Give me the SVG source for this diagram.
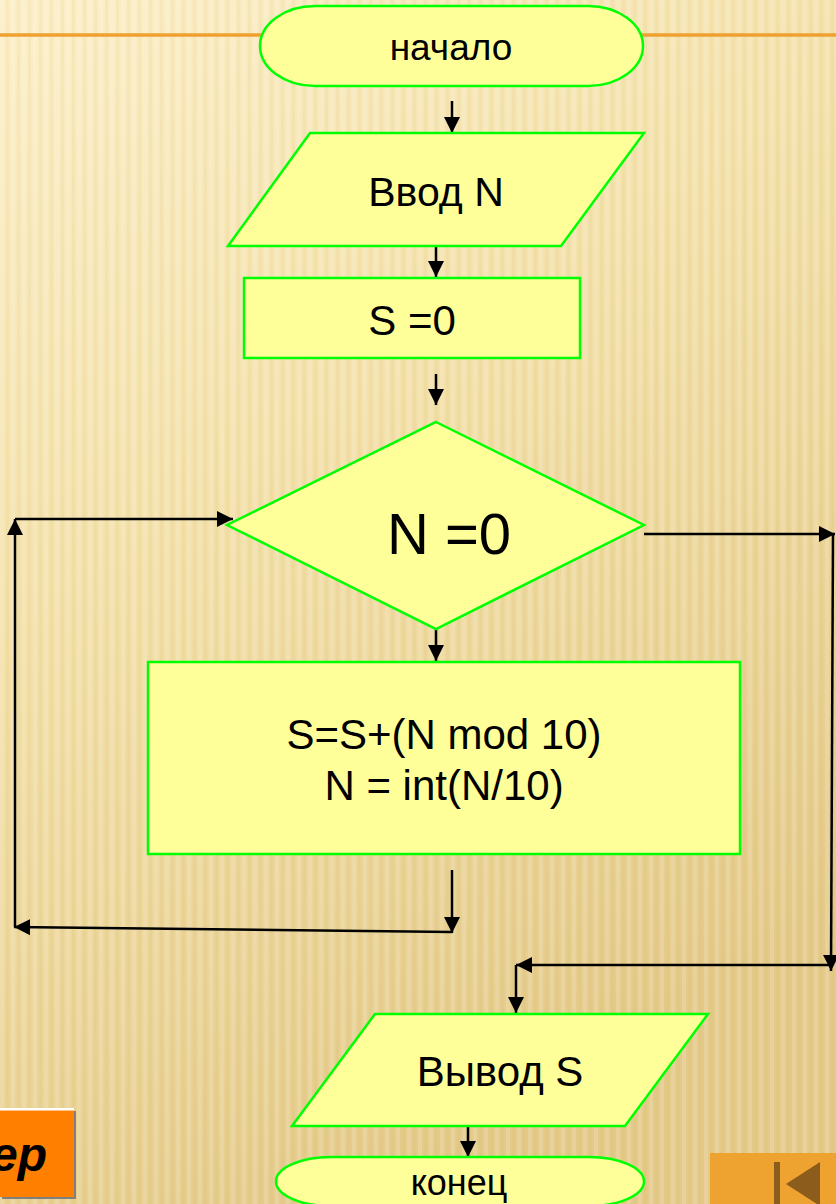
<svg xmlns="http://www.w3.org/2000/svg" width="836" height="1204" viewBox="0 0 836 1204">
  <defs>
    <linearGradient id="bg" x1="0" y1="0" x2="0.45" y2="1">
      <stop offset="0" stop-color="#fcefc8"/>
      <stop offset="0.45" stop-color="#f3e1aa"/>
      <stop offset="1" stop-color="#e4ca89"/>
    </linearGradient>
    <pattern id="stripes" width="11" height="40" patternUnits="userSpaceOnUse">
      <rect x="0" y="0" width="4" height="40" fill="#ffffff" opacity="0.14"/>
      <rect x="6" y="0" width="3" height="40" fill="#b08a30" opacity="0.06"/>
    </pattern>
    <marker id="arrow" viewBox="0 0 16 16" refX="16" refY="8" markerWidth="16" markerHeight="16" markerUnits="userSpaceOnUse" orient="auto">
      <path d="M0,0 L16,8 L0,16 z" fill="#000"/>
    </marker>
    <style>
      .node { fill: #ffff99; stroke: #00ff00; stroke-width: 2.5; }
      .lbl { font-family: "Liberation Sans", Arial, sans-serif; fill: #000; text-anchor: middle; }
      .link { fill: none; stroke: #000; stroke-width: 2.5; marker-end: url(#arrow); }
    </style>
  </defs>

  <!-- background -->
  <rect width="836" height="1204" fill="url(#bg)"/>
  <rect width="836" height="1204" fill="url(#stripes)"/>
  <line x1="0" y1="35" x2="836" y2="35" stroke="#eea030" stroke-width="3.5"/>

  <!-- connectors -->
  <g id="connectors">
    <line class="link" x1="452" y1="101" x2="452" y2="133"/>
    <line class="link" x1="436" y1="246" x2="436" y2="277"/>
    <line class="link" x1="436" y1="374" x2="436" y2="405"/>
    <line class="link" x1="436" y1="629" x2="436" y2="661"/>
    <!-- loop back to the condition -->
    <line class="link" x1="452" y1="870" x2="452" y2="933"/>
    <line class="link" x1="452" y1="932" x2="14" y2="927"/>
    <line class="link" x1="15" y1="927" x2="15" y2="519"/>
    <line class="link" x1="15" y1="519" x2="233" y2="519"/>
    <!-- exit branch -->
    <line class="link" x1="644" y1="534" x2="835" y2="534"/>
    <line class="link" x1="833" y1="534" x2="831" y2="971"/>
    <line class="link" x1="831" y1="965" x2="516" y2="965"/>
    <line class="link" x1="516" y1="965" x2="516" y2="1013"/>
    <line class="link" x1="468" y1="1126" x2="468" y2="1157"/>
  </g>

  <g id="start">
    <rect class="node" x="260" y="6" width="383" height="80" rx="55" ry="40"/>
    <text class="lbl" x="451" y="60" font-size="37">начало</text>
  </g>

  <g id="input">
    <polygon class="node" points="310,133 644,133 561,246 228,246"/>
    <text class="lbl" x="436" y="206" font-size="41">Ввод N</text>
  </g>

  <g id="init">
    <rect class="node" x="244" y="278" width="336" height="80"/>
    <text class="lbl" x="412" y="335" font-size="42">S =0</text>
  </g>

  <g id="cond">
    <polygon class="node" stroke-width="2" points="436,422 644,525 436,629 227,525"/>
    <text class="lbl" x="449" y="554" font-size="58">N =0</text>
  </g>

  <g id="body">
    <rect class="node" x="148" y="662" width="592" height="192"/>
    <text class="lbl" x="444" y="749" font-size="42">S=S+(N mod 10)</text>
    <text class="lbl" x="444" y="800" font-size="42">N = int(N/10)</text>
  </g>

  <g id="output">
    <polygon class="node" points="375,1014 708,1014 625,1126 292,1126"/>
    <text class="lbl" x="500" y="1086" font-size="42">Вывод S</text>
  </g>

  <g id="end">
    <rect class="node" x="276" y="1157" width="368" height="49" rx="55" ry="24.5"/>
    <text class="lbl" x="459" y="1195" font-size="36">конец</text>
  </g>

  <!-- slide navigation buttons -->
  <g id="btn-example">
    <rect x="2" y="1111" width="74" height="88" fill="#808080"/>
    <rect x="0" y="1108" width="74" height="89" fill="#ff8000"/>
    <rect x="0" y="1108" width="74" height="2.5" fill="#ffffff"/>
    <text x="47" y="1171" font-family="Liberation Sans, Arial, sans-serif" font-size="48" font-weight="bold" font-style="italic" text-anchor="end" fill="#000">ер</text>
  </g>
  <g id="btn-first">
    <rect x="710" y="1153" width="126" height="51" fill="#eea22f"/>
    <rect x="774" y="1162" width="6" height="42" fill="#8c5c1c"/>
    <polygon points="786,1184 820,1162 820,1206" fill="#8c5c1c"/>
  </g>
</svg>
